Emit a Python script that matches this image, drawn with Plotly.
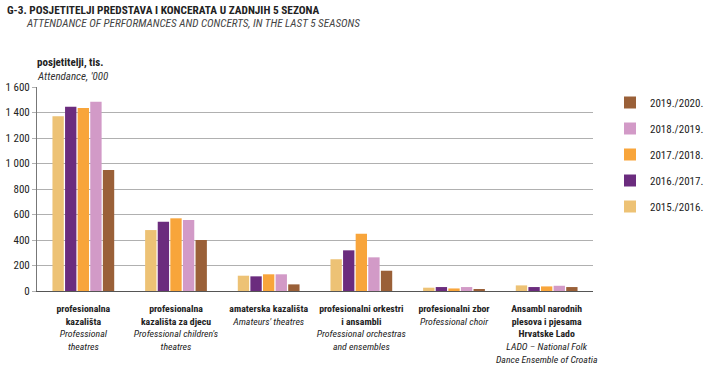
import plotly.graph_objects as go

categories = [
    "<b>profesionalna<br>kazališta</b><br><i>Professional<br>theatres</i>",
    "<b>profesionalna<br>kazališta za djecu</b><br><i>Professional children's<br>theatres</i>",
    "<b>amaterska kazališta</b><br><i>Amateurs' theatres</i>",
    "<b>profesionalni orkestri<br>i ansambli</b><br><i>Professional orchestras<br>and ensembles</i>",
    "<b>profesionalni zbor</b><br><i>Professional choir</i>",
    "<b>Ansambl narodnih<br>plesova i pjesama<br>Hrvatske Lado</b><br><i>LADO – National Folk<br>Dance Ensemble of Croatia</i>",
]
seasons = ["2015./2016.", "2016./2017.", "2017./2018.", "2018./2019.", "2019./2020."]
v2015 = [1370, 478, 120, 249, 26, 44]
v2016 = [1445, 544, 115, 319, 31, 31]
v2017 = [1435, 570, 131, 449, 20, 36]
v2018 = [1485, 557, 131, 264, 31, 41]
v2019 = [950, 400, 52, 159, 13, 31]
series = [v2015, v2016, v2017, v2018, v2019]
colors = ["#EDC275", "#6B2C7E", "#F8A53B", "#D29AC7", "#9A6038"]
yticks = [0, 200, 400, 600, 800, 1000, 1200, 1400, 1600]
yticklabels = ["0", "200", "400", "600", "800", "1 000", "1 200", "1 400", "1 600"]

FONT = "Roboto Condensed, Liberation Sans Narrow, DejaVu Sans Condensed, sans-serif"
PH = 204.0
PW = 556.0

fig = go.Figure()
x_idx = list(range(len(categories)))
n = len(seasons)
for i, (name, vals, col) in enumerate(zip(seasons, series, colors)):
    fig.add_trace(go.Bar(x=x_idx, y=vals, name=name, marker=dict(color=col, line=dict(width=0)),
                         legendgroup=name, legendrank=n - i))

fig.update_layout(
    width=707, height=375,
    margin=dict(l=37, r=114, t=87, b=84, autoexpand=False),
    paper_bgcolor="white", plot_bgcolor="white",
    font=dict(family=FONT, size=11, color="#222"),
    barmode="group", bargap=0.32, bargroupgap=0.1,
    showlegend=True,
    legend=dict(traceorder="grouped", tracegroupgap=7, x=(610 - 37) / PW, xanchor="left",
                y=(291 - 88) / PH, yanchor="top", font=dict(size=11, color="#222"), itemwidth=30,
                bgcolor="rgba(0,0,0,0)"),
    xaxis=dict(tickmode="array", tickvals=x_idx, ticktext=categories, showgrid=False,
               showline=True, linecolor="#555", linewidth=1, ticks="", tickangle=0, automargin=False,
               ticklabelstandoff=8,
               range=[-0.5, 5.5], tickfont=dict(size=9.8, color="#222"), fixedrange=True),
    yaxis=dict(range=[0, 1600], tickmode="array", tickvals=yticks, ticktext=yticklabels,
               showgrid=True, gridcolor="#b0b0b0", gridwidth=1, showline=True, linecolor="#777",
               linewidth=1, ticks="outside", ticklen=4, tickcolor="#b0b0b0", automargin=False,
               tickfont=dict(size=11, color="#222"), zeroline=False),
    annotations=[
        dict(text="<b>G-3. POSJETITELJI PREDSTAVA I KONCERATA U ZADNJIH 5 SEZONA</b>",
             xref="paper", yref="paper", x=-32 / PW, y=1 + (87 - 10) / PH, xanchor="left",
             yanchor="middle", showarrow=False, font=dict(size=11.3, color="#222")),
        dict(text="<i>ATTENDANCE OF PERFORMANCES AND CONCERTS, IN THE LAST 5 SEASONS</i>",
             xref="paper", yref="paper", x=-13 / PW, y=1 + (87 - 23) / PH, xanchor="left",
             yanchor="middle", showarrow=False, font=dict(size=11.2, color="#444")),
        dict(text="<b>posjetitelji, tis.</b>", xref="paper", yref="paper", x=-2 / PW, y=1 + (87 - 63) / PH,
             xanchor="left", yanchor="middle", showarrow=False, font=dict(size=11, color="#222")),
        dict(text="<i>Attendance, '000</i>", xref="paper", yref="paper", x=-2 / PW, y=1 + (87 - 76) / PH,
             xanchor="left", yanchor="middle", showarrow=False, font=dict(size=11, color="#333")),
    ],
)

fig.write_html("out.html", config={"displayModeBar": False},
               post_script="document.body.style.margin='0';document.body.style.padding='0';")
